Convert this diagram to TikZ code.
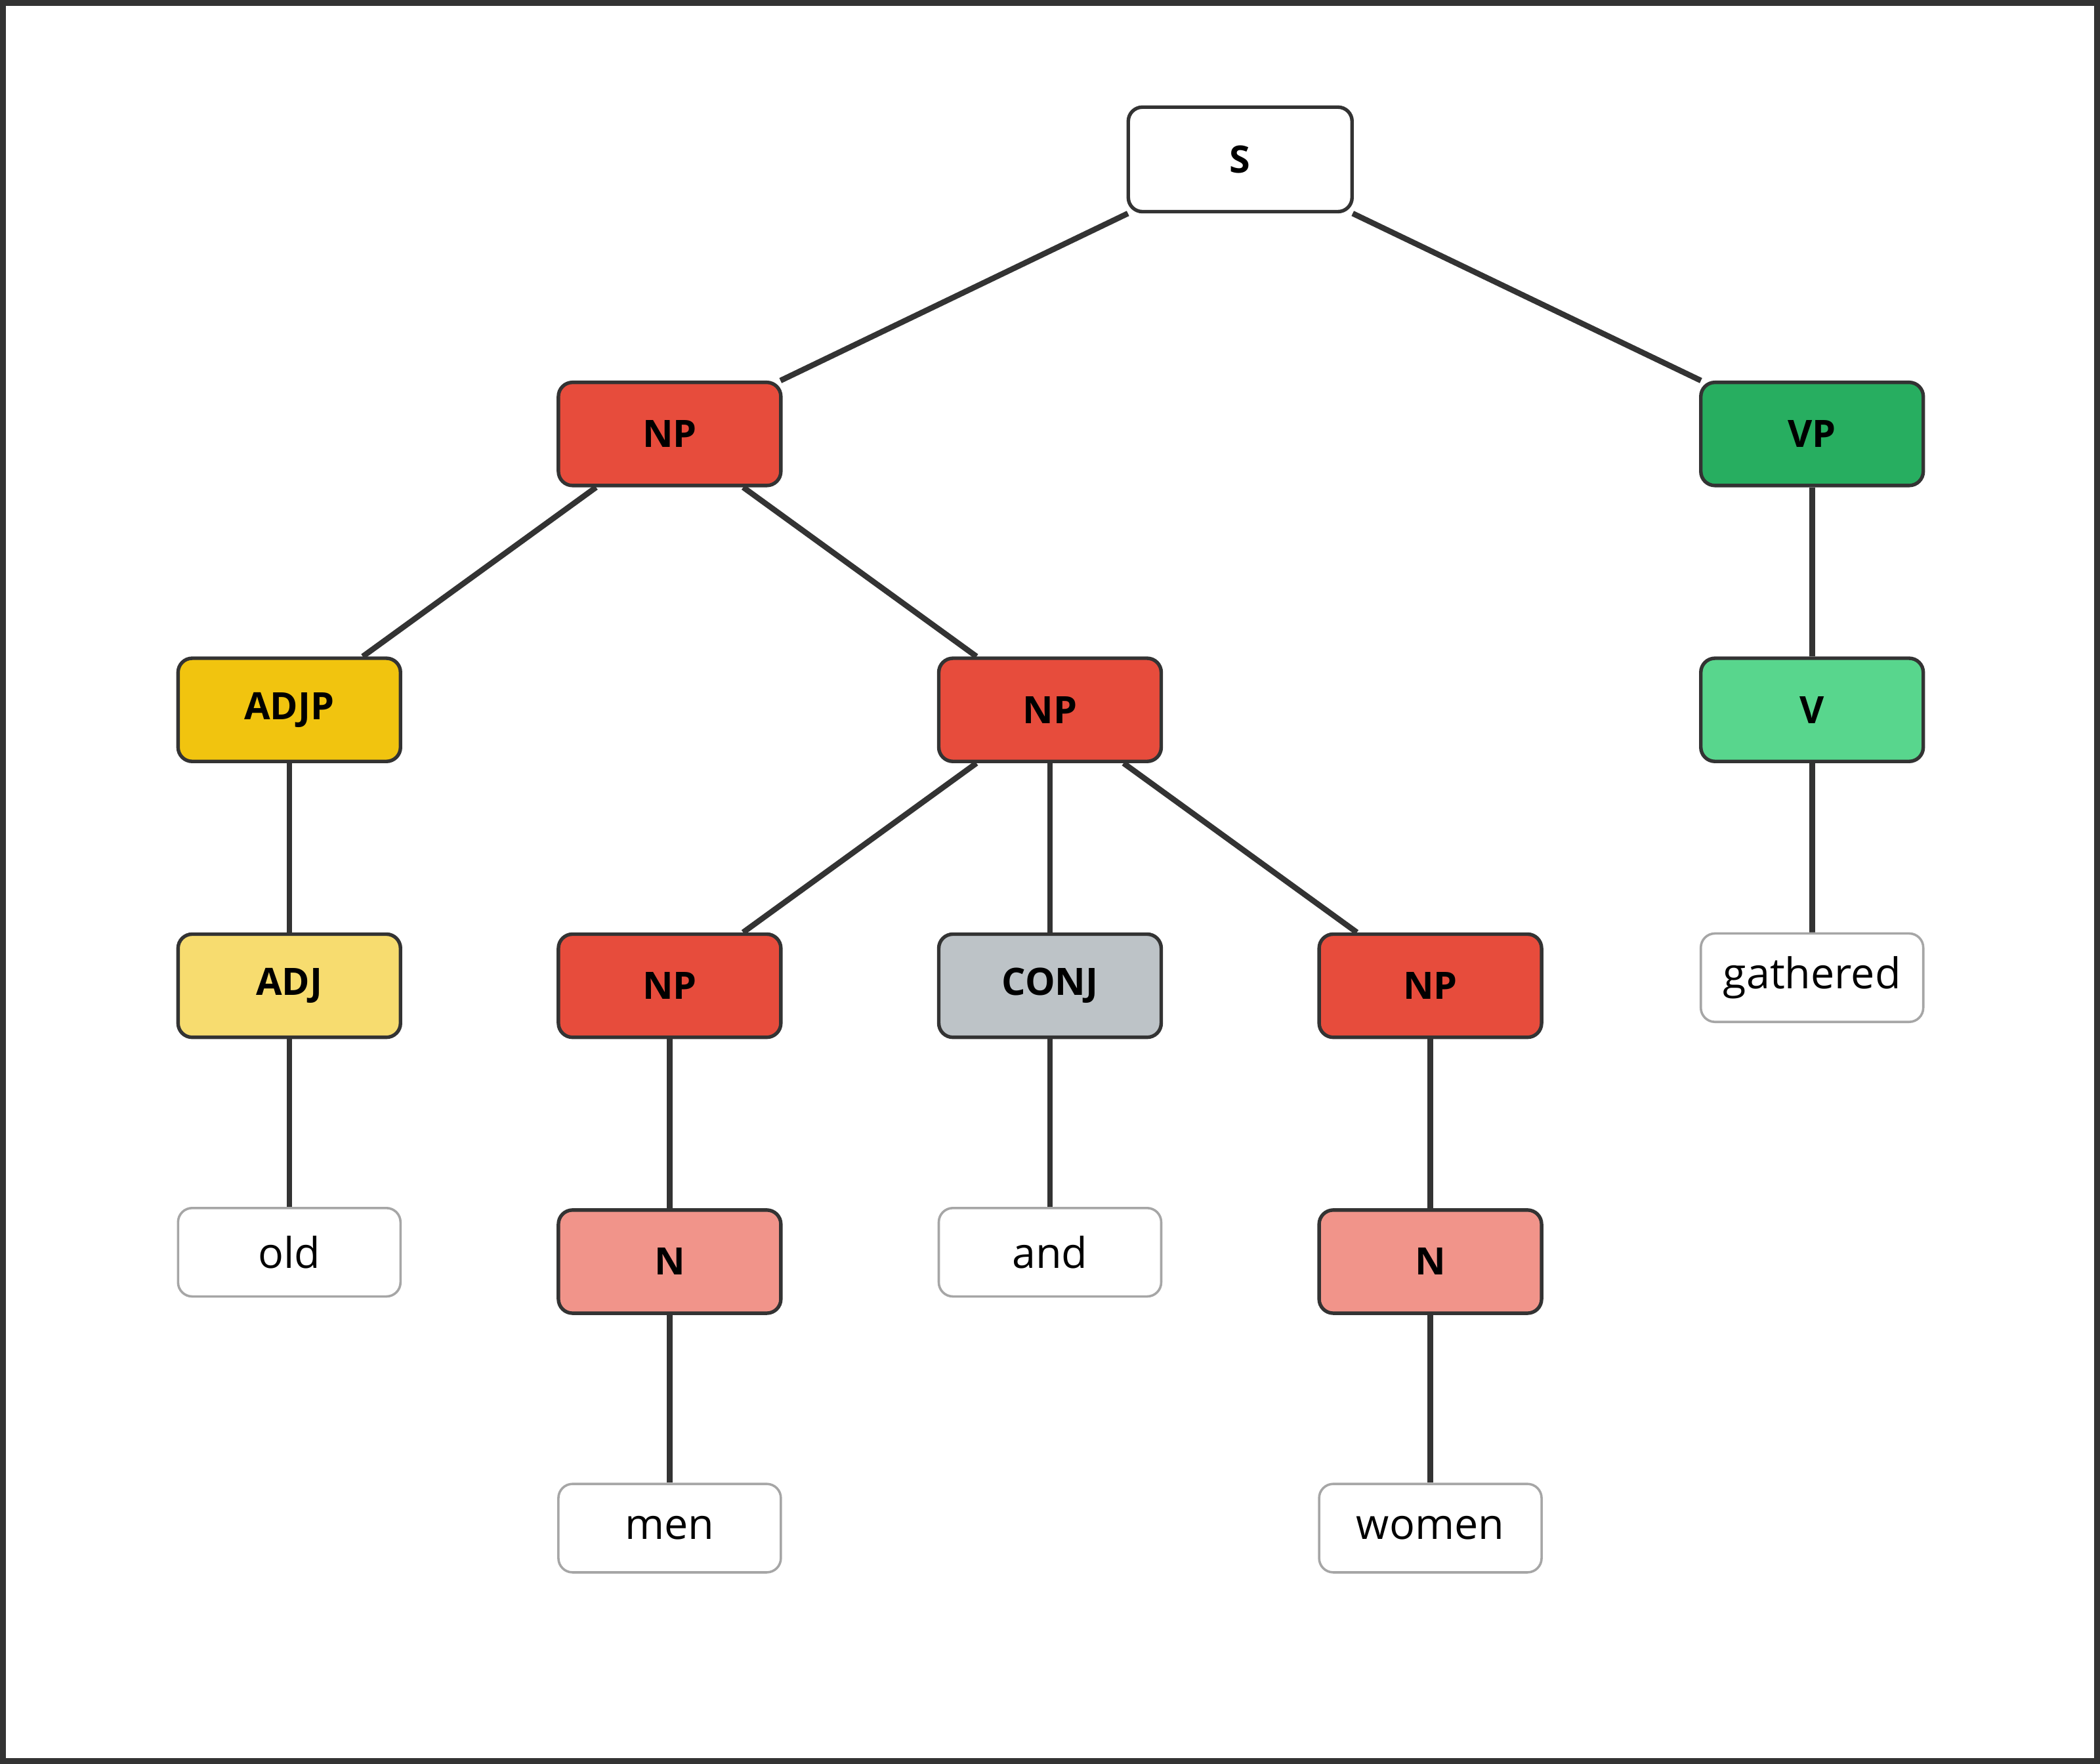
\documentclass[tikz,border=0pt]{standalone}
\usepackage{fontspec}
\setmainfont{Open Sans}
\usetikzlibrary{backgrounds}
\definecolor{edgegray}{HTML}{333333}
\definecolor{npred}{HTML}{E74C3C}
\definecolor{nred}{HTML}{F1948A}
\definecolor{vpgreen}{HTML}{27AE60}
\definecolor{vgreen}{HTML}{58D68D}
\definecolor{adjpyellow}{HTML}{F1C40F}
\definecolor{adjyellow}{HTML}{F7DC6F}
\definecolor{conjgray}{HTML}{BDC3C7}
\begin{document}
\begin{tikzpicture}[x=0.01cm,y=-0.01cm,
        cat/.style={draw=edgegray,line width=0.75pt,rounded corners=3pt,
            minimum width=1.66cm,minimum height=0.77cm,inner sep=0pt,
            font=\fontsize{8}{10}\selectfont\bfseries},
        word/.style={draw=gray!70,line width=0.5pt,rounded corners=3pt,fill=white,
            minimum width=1.66cm,minimum height=0.66cm,inner sep=0pt,
            font=\fontsize{9}{11}\selectfont},
        branch/.style={draw=edgegray,line width=1.2pt}]
    \useasboundingbox (0,0) rectangle (1568,1317);
    \draw[edgegray,line width=1.4pt] (2,2) rectangle (1566,1315);

    \node[cat,fill=white,minimum width=1.67cm,minimum height=0.78cm] (s) at (926,119) {S};
    \node[cat,fill=npred] (np) at (500,324) {NP};
    \node[cat,fill=vpgreen] (vp) at (1353,324) {VP};
    \node[cat,fill=adjpyellow] (adjp) at (216,530) {ADJP};
    \node[cat,fill=npred] (npc) at (784,530) {NP};
    \node[cat,fill=vgreen] (v) at (1353,530) {V};
    \node[cat,fill=adjyellow] (adj) at (216,736) {ADJ};
    \node[cat,fill=npred] (npl) at (500,736) {NP};
    \node[cat,fill=conjgray] (conj) at (784,736) {CONJ};
    \node[cat,fill=npred] (npr) at (1068,736) {NP};
    \node[word] (gathered) at (1353,730) {gathered};
    \node[word] (old) at (216,935) {old};
    \node[cat,fill=nred] (nl) at (500,942) {N};
    \node[word] (and) at (784,935) {and};
    \node[cat,fill=nred] (nr) at (1068,942) {N};
    \node[word] (men) at (500,1141) {men};
    \node[word] (women) at (1068,1141) {women};

    \begin{scope}[on background layer]
    \draw[branch] (s) -- (np);
    \draw[branch] (s) -- (vp);
    \draw[branch] (np) -- (adjp);
    \draw[branch] (np) -- (npc);
    \draw[branch] (vp) -- (v);
    \draw[branch] (adjp) -- (adj);
    \draw[branch] (npc) -- (npl);
    \draw[branch] (npc) -- (conj);
    \draw[branch] (npc) -- (npr);
    \draw[branch] (v) -- (gathered);
    \draw[branch] (adj) -- (old);
    \draw[branch] (npl) -- (nl);
    \draw[branch] (conj) -- (and);
    \draw[branch] (npr) -- (nr);
    \draw[branch] (nl) -- (men);
    \draw[branch] (nr) -- (women);
    \end{scope}
\end{tikzpicture}
\end{document}
